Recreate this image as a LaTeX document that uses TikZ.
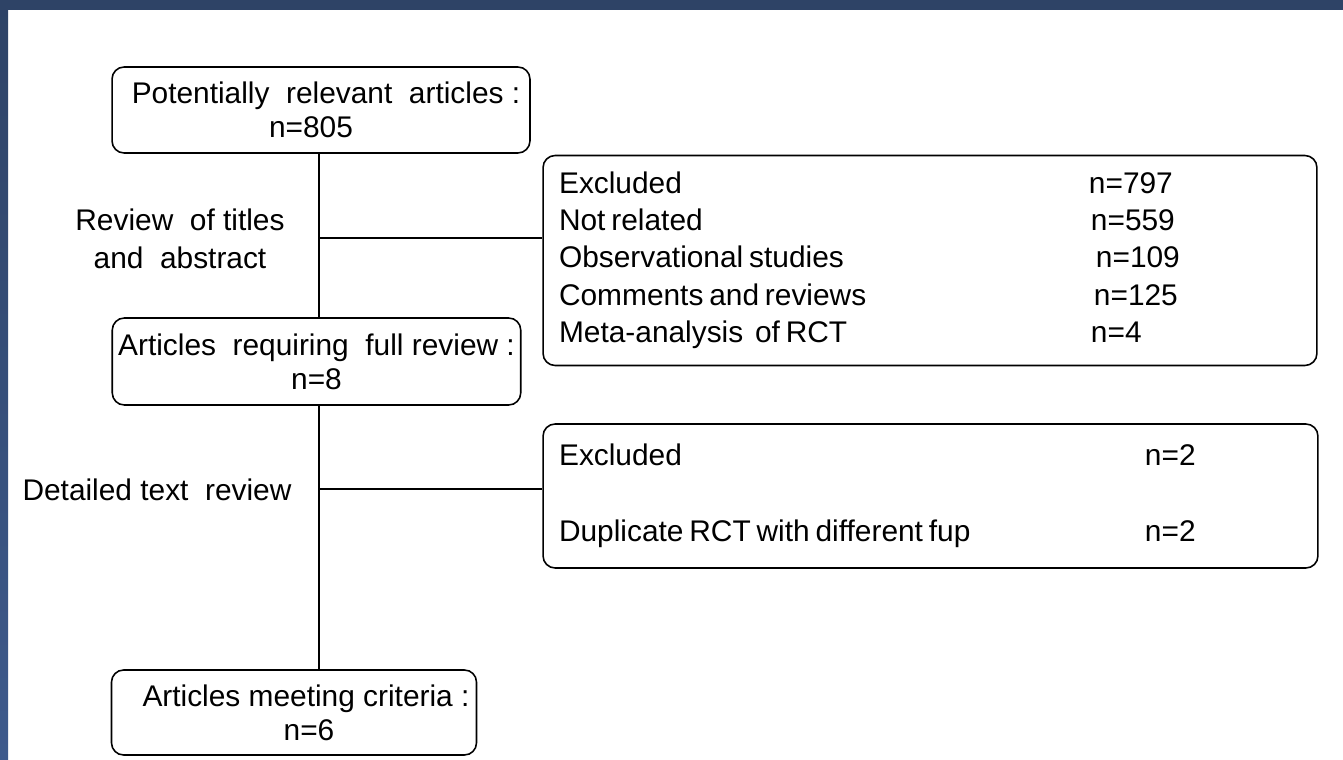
\documentclass[tikz,border=0pt]{standalone}
\usepackage{fontspec}
\setmainfont{Liberation Sans}
\usepackage{xcolor}
\usepackage{tikz}
\usetikzlibrary{positioning, calc}
\definecolor{slidenavy}{RGB}{46, 67, 102}
\definecolor{slideblue}{RGB}{62, 90, 140}
\newcommand{\bodyfont}{\fontsize{17}{19.5}\selectfont}
\newcommand{\listfont}{\fontsize{17}{21.3}\selectfont}

\begin{document}
\begin{tikzpicture}[x=0.02cm, y=-0.02cm,
    stagebox/.style={draw, line width=0.9pt, rounded corners=0.24cm, align=center, font=\bodyfont, minimum height=1.72cm},
    exbox/.style={draw, line width=0.9pt, rounded corners=0.24cm, align=left, inner xsep=0.32cm},
    steplabel/.style={align=center, font=\listfont},
    link/.style={line width=0.9pt}]
    % Slide frame
    \useasboundingbox (0,0) rectangle (1343,760);
    \shade[top color=slidenavy, bottom color=slideblue] (0,0) rectangle (8,760);
    \fill[slidenavy] (0,0) rectangle (1343,10);

    % Main stages
    \node[stagebox, minimum width=8.36cm] (potential) at (321,110) {\hspace*{0.2cm}Potentially~ relevant~ articles :\\n=805\hspace*{0.4cm}};
    \node[stagebox, minimum width=8.14cm, minimum height=1.74cm] (fullrev) at (316.5,361.5) {Articles~ requiring~ full review :\\n=8};
    \node[stagebox, minimum width=7.3cm, minimum height=1.7cm, inner xsep=0.05cm] (included) at (294,712.5) {\hspace*{0.48cm}Articles meeting criteria :\\\hspace*{0.6cm}n=6};

    % Exclusion boxes
    \node[exbox, minimum width=15.48cm, minimum height=4.2cm, text width=14.84cm] (excl1) at (930,260.5) {\listfont
        \begin{tabular}{@{}p{10.6cm}@{}l@{}}
            Excluded & n=797\\
            Not related & \hspace{0.04cm}n=559\\
            Observational studies & \hspace{0.14cm}n=109\\
            Comments and reviews & \hspace{0.1cm}n=125\\
            Meta-analysis~ of RCT & \hspace{0.04cm}n=4
        \end{tabular}};
    \node[exbox, minimum width=15.42cm, minimum height=2.88cm, text width=14.86cm] (excl2) at (930.5,496) {\fontsize{17}{21.6}\selectfont
        \begin{tabular}{@{}p{11.72cm}@{}l@{}}
            Excluded & n=2\\
            & \\
            Duplicate RCT with different fup & n=2
        \end{tabular}};

    % Review steps
    \node[steplabel] (titlesrev) at (180,239) {Review~ of titles\\and~ abstract};
    \node[steplabel] (textrev) at (157,490) {Detailed text~ review};

    % Connectors
    \coordinate (spine) at (319,0);
    \coordinate (split1) at (spine |- 0,238);
    \coordinate (split2) at (spine |- 0,489);
    \draw[link] (spine |- potential.south) -- (spine |- fullrev.north);
    \draw[link] (spine |- fullrev.south) -- (spine |- included.north);
    \draw[link] (split1) -- (split1 -| excl1.west);
    \draw[link] (split2) -- (split2 -| excl2.west);
\end{tikzpicture}
\end{document}
